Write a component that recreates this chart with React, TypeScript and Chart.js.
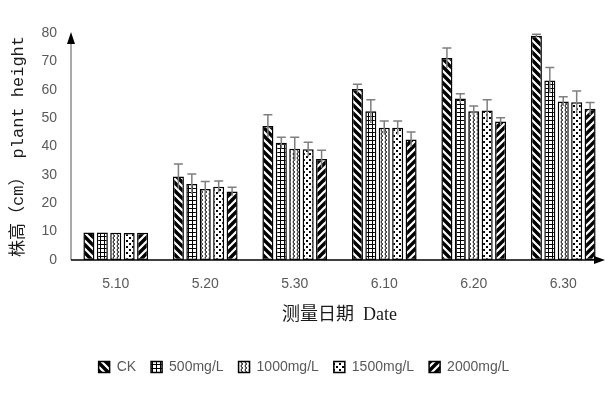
import React, { useEffect, useRef } from 'react';
import { Chart, registerables } from 'chart.js';

Chart.register(...registerables);

const categories = ['5.10', '5.20', '5.30', '6.10', '6.20', '6.30'];
const seriesNames = ['CK', '500mg/L', '1000mg/L', '1500mg/L', '2000mg/L'];

const ckValues = [9.7, 29.4, 47.2, 60.3, 71.2, 79.0];
const v500Values = [9.7, 26.8, 41.3, 52.4, 56.9, 63.3];
const v1000Values = [9.6, 25.0, 39.2, 46.6, 52.4, 55.9];
const v1500Values = [9.5, 25.8, 39.0, 46.6, 52.7, 55.6];
const v2000Values = [9.6, 24.1, 35.6, 42.5, 48.8, 53.3];

const ckErrors = [0.2, 4.4, 4.0, 1.6, 3.5, 0.6];
const v500Errors = [0.2, 3.5, 2.0, 4.1, 1.7, 4.5];
const v1000Errors = [0.2, 2.7, 4.1, 2.4, 1.9, 1.6];
const v1500Errors = [0.2, 2.0, 2.5, 2.4, 3.8, 4.0];
const v2000Errors = [0.2, 1.5, 3.1, 2.6, 1.3, 2.2];

const yMin = 0;
const yMax = 80;
const yStep = 10;

const seriesValues = [ckValues, v500Values, v1000Values, v1500Values, v2000Values];
const seriesErrors = [ckErrors, v500Errors, v1000Errors, v1500Errors, v2000Errors];
const patternKinds = ['back', 'grid', 'wave', 'dots', 'fwd'];

function makePattern(kind: string): CanvasPattern | string {
  const c = document.createElement('canvas');
  const ctx = c.getContext('2d');
  if (!ctx) return '#fff';
  let s = 8;
  if (kind === 'grid') s = 4;
  if (kind === 'wave') s = 4;
  if (kind === 'dots') s = 6;
  c.width = s;
  c.height = s;
  ctx.fillStyle = '#fff';
  ctx.fillRect(0, 0, s, s);
  ctx.strokeStyle = '#000';
  ctx.fillStyle = '#000';
  if (kind === 'back' || kind === 'fwd') {
    ctx.lineWidth = 3.4;
    ctx.beginPath();
    if (kind === 'back') {
      for (let k = -1; k <= 1; k++) {
        ctx.moveTo(k * s - 2, -2);
        ctx.lineTo(k * s + s + 2, s + 2);
      }
    } else {
      for (let k = -1; k <= 1; k++) {
        ctx.moveTo(k * s - 2, s + 2);
        ctx.lineTo(k * s + s + 2, -2);
      }
    }
    ctx.stroke();
  } else if (kind === 'grid') {
    ctx.fillRect(0, 0, s, 1);
    ctx.fillRect(0, 0, 1, s);
  } else if (kind === 'wave') {
    ctx.lineWidth = 1;
    ctx.beginPath();
    ctx.arc(2.8, 2, 1.7, 0.5 * Math.PI, 1.5 * Math.PI);
    ctx.stroke();
  } else if (kind === 'dots') {
    ctx.fillRect(0, 0, 2, 2);
    ctx.fillRect(3, 3, 2, 2);
  }
  const p = ctx.createPattern(c, 'repeat');
  return p || '#fff';
}

const errorBarPlugin = {
  id: 'errorBars',
  afterDatasetsDraw(chart: any) {
    const ctx = chart.ctx;
    const yScale = chart.scales.y;
    ctx.save();
    ctx.strokeStyle = '#7f7f7f';
    ctx.lineWidth = 1.5;
    chart.data.datasets.forEach((ds: any, i: number) => {
      const meta = chart.getDatasetMeta(i);
      const errs = seriesErrors[i];
      meta.data.forEach((bar: any, j: number) => {
        const v = ds.data[j];
        const e = errs[j];
        if (e < 0.5) return;
        const x = bar.x;
        const yt = yScale.getPixelForValue(v + e);
        const yb = yScale.getPixelForValue(v - e);
        ctx.beginPath();
        ctx.moveTo(x, yt);
        ctx.lineTo(x, yb);
        ctx.moveTo(x - 4.5, yt);
        ctx.lineTo(x + 4.5, yt);
        ctx.stroke();
      });
    });
    ctx.restore();
  },
};

const axesPlugin = {
  id: 'arrowAxes',
  afterDatasetsDraw(chart: any) {
    const { ctx, chartArea } = chart;
    const { left, right, top, bottom } = chartArea;
    ctx.save();
    ctx.strokeStyle = '#8c8c8c';
    ctx.lineWidth = 1.5;
    ctx.beginPath();
    ctx.moveTo(left, bottom);
    ctx.lineTo(left, top + 8);
    ctx.stroke();
    ctx.fillStyle = '#000';
    ctx.beginPath();
    ctx.moveTo(left, top - 1);
    ctx.lineTo(left - 4, top + 11);
    ctx.lineTo(left + 4, top + 11);
    ctx.closePath();
    ctx.fill();
    ctx.strokeStyle = '#000';
    ctx.lineWidth = 1.5;
    ctx.beginPath();
    ctx.moveTo(left, bottom);
    ctx.lineTo(right - 8, bottom);
    ctx.stroke();
    ctx.beginPath();
    ctx.moveTo(right - 3, bottom);
    ctx.lineTo(right - 14, bottom - 4);
    ctx.lineTo(right - 14, bottom + 4);
    ctx.closePath();
    ctx.fill();
    ctx.restore();
  },
};

export default function App() {
  const ref = useRef<HTMLCanvasElement | null>(null);

  useEffect(() => {
    if (!ref.current) return;
    const datasets = seriesNames.map((name, i) => ({
      label: name,
      data: seriesValues[i],
      backgroundColor: makePattern(patternKinds[i]),
      borderColor: '#000',
      borderWidth: 1.5,
      borderSkipped: false as const,
      barPercentage: 0.82,
      categoryPercentage: 0.75,
    }));
    const chart = new Chart(ref.current, {
      type: 'bar',
      data: { labels: categories, datasets: datasets as any },
      options: {
        responsive: false,
        animation: false,
        layout: { padding: { left: 0, right: 2, top: 33, bottom: 9 } },
        plugins: {
          legend: {
            position: 'bottom',
            labels: {
              boxWidth: 11,
              boxHeight: 11,
              padding: 15,
              color: '#595959',
              font: { family: "'Liberation Sans', Arial, sans-serif", size: 14 },
            },
          },
          tooltip: { enabled: false },
        },
        scales: {
          x: {
            grid: { display: false, drawTicks: false },
            border: { display: false },
            ticks: {
              color: '#595959',
              padding: 16,
              font: { family: "'Liberation Sans', Arial, sans-serif", size: 14 },
            },
            title: {
              display: true,
              text: '测量日期  Date',
              color: '#1a1a1a',
              font: { family: "'Liberation Serif', 'Noto Sans CJK SC', serif", size: 18 },
              padding: { top: 12, bottom: 19 },
            },
            afterFit(scale: any) {
              scale.height = 85;
            },
          },
          y: {
            min: yMin,
            max: yMax,
            grid: { display: false, drawTicks: false },
            border: { display: false },
            ticks: {
              stepSize: yStep,
              color: '#595959',
              padding: 14,
              font: { family: "'Liberation Sans', Arial, sans-serif", size: 14 },
            },
            title: {
              display: true,
              text: '株高（cm） plant height',
              color: '#1a1a1a',
              font: { family: "'Liberation Mono', 'Noto Sans CJK SC', monospace", size: 17 },
              padding: { top: 8, bottom: 4 },
            },
            afterFit(scale: any) {
              scale.width = 71;
            },
          },
        },
      },
      plugins: [errorBarPlugin, axesPlugin],
    });
    return () => chart.destroy();
  }, []);

  return (
    <div style={{ position: 'fixed', left: 0, top: 0, width: 610, height: 393, background: '#fff' }}>
      <canvas ref={ref} width={610} height={393} style={{ display: 'block' }} />
    </div>
  );
}
